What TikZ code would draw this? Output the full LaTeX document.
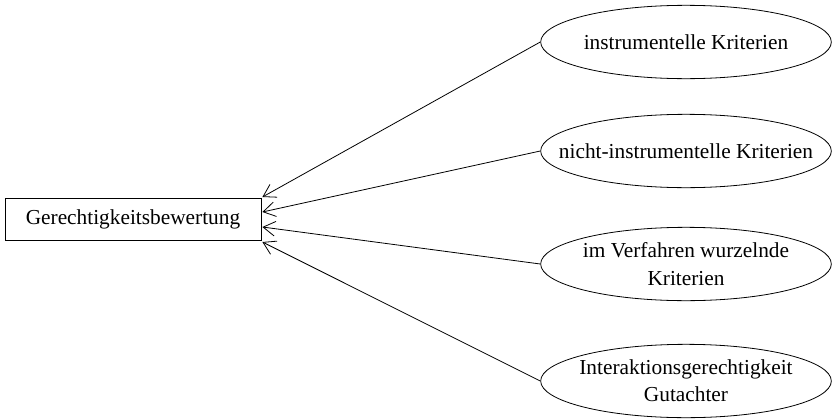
\documentclass[tikz,border=0pt]{standalone}
\usepackage{fontspec}
\setmainfont{Liberation Serif}
\usetikzlibrary{shapes.geometric,arrows.meta,calc}

\begin{document}
\begin{tikzpicture}[
		x=0.75pt, y=-0.75pt
		,every node/.append style={font=\fontsize{16}{20.5}\selectfont, align=center, line width=0.6pt}
		,kriterium/.style={ellipse, draw, minimum width=218pt, minimum height=55pt, inner xsep=-30pt, inner ysep=-8pt}
		,bewertung/.style={rectangle, draw, minimum width=192pt, minimum height=32pt, inner sep=0pt}
		,pfeil/.style={line width=0.6pt, -{Straight Barb[length=9pt,width=11pt]}}
	]
		\useasboundingbox (0,0) rectangle (832,418);
		\node [bewertung] (G) at (133,219.5) {Gerechtigkeitsbewertung};
		\node [kriterium] (K1) at (686,42) {instrumentelle Kriterien};
		\node [kriterium] (K2) at (686,151) {nicht-instrumentelle Kriterien};
		\node [kriterium] (K3) at (686,264) {im Verfahren wurzelnde\\Kriterien};
		\node [kriterium] (K4) at (686,381) {Interaktionsgerechtigkeit\\Gutachter};
		% Pfeile zur Bewertung
		\draw [pfeil] (K1.west) -- ($(G.east)+(1,-22.5)$);
		\draw [pfeil] (K2.west) -- ($(G.east)+(1,-7.5)$);
		\draw [pfeil] (K3.west) -- ($(G.east)+(1,7.5)$);
		\draw [pfeil] (K4.west) -- ($(G.east)+(1,22.5)$);
	\end{tikzpicture}
\end{document}
